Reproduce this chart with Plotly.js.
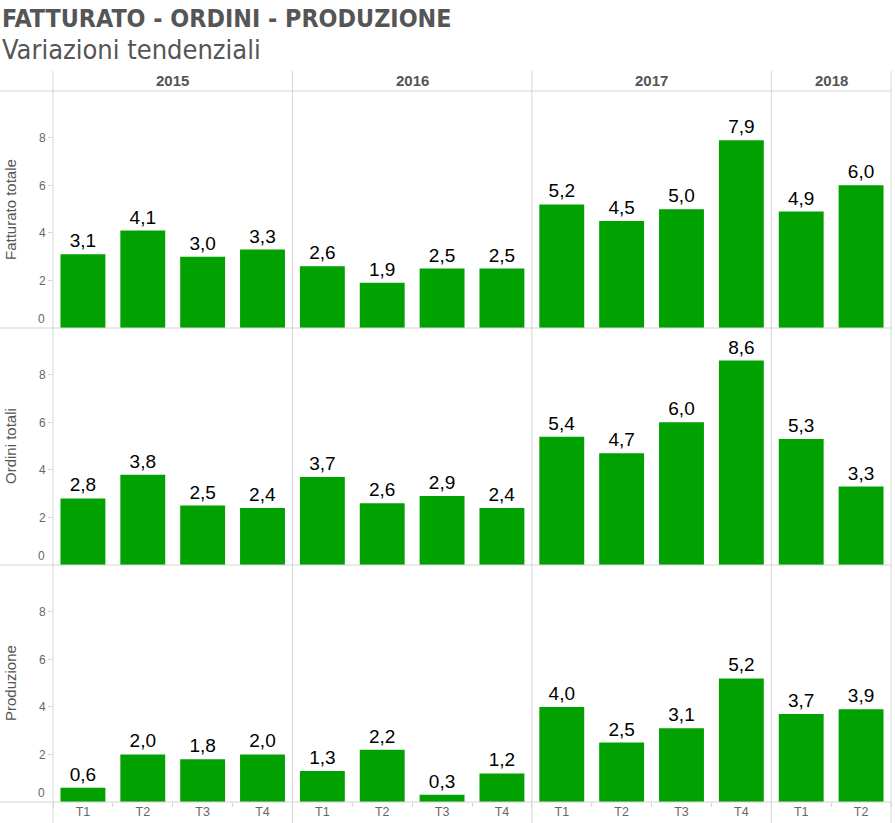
<!DOCTYPE html>
<html>
<head>
<meta charset="utf-8">
<script src="https://cdn.plot.ly/plotly-3.0.1.min.js"></script>
<style>
  html, body { margin: 0; padding: 0; background: #fff; }
  #chart { width: 895px; height: 823px; }
</style>
</head>
<body>
<div id="chart"></div>
<script>
// ---- data ----
const years = ['2015', '2016', '2017', '2018'];
const periodYears = ['2015','2015','2015','2015','2016','2016','2016','2016','2017','2017','2017','2017','2018','2018'];
const quarters = ['T1','T2','T3','T4','T1','T2','T3','T4','T1','T2','T3','T4','T1','T2'];
const fatturato = [3.1, 4.1, 3.0, 3.3, 2.6, 1.9, 2.5, 2.5, 5.2, 4.5, 5.0, 7.9, 4.9, 6.0];
const ordini = [2.8, 3.8, 2.5, 2.4, 3.7, 2.6, 2.9, 2.4, 5.4, 4.7, 6.0, 8.6, 5.3, 3.3];
const produzione = [0.6, 2.0, 1.8, 2.0, 1.3, 2.2, 0.3, 1.2, 4.0, 2.5, 3.1, 5.2, 3.7, 3.9];
const rowTitles = ['Fatturato totale', 'Ordini totali', 'Produzione'];
const yTicks = [2, 4, 6, 8];

// ---- layout helpers ----
const W = 895, H = 823;
const L = 53, R = 891, T = 91, B = 802;
const pw = R - L, ph = B - T;
const px2x = p => (p - L) / pw;
const py2y = p => (B - p) / ph;

const cats = periodYears.map((y, i) => y + ' ' + quarters[i]);
const green = '#00a100';
const lineCol = '#d4d4d4';
const axisFont = 'Liberation Sans, Arial, sans-serif';

const series = [fatturato, ordini, produzione];
const yaxisNames = ['y', 'y2', 'y3'];
const traces = series.map((vals, r) => ({
  type: 'bar',
  x: cats,
  y: vals,
  xaxis: 'x',
  yaxis: yaxisNames[r],
  marker: { color: green, line: { width: 0 } },
  width: 0.75,
  texttemplate: '%{y:.1f}',
  textposition: 'outside',
  textfont: { family: axisFont, size: 19, color: '#000' },
  cliponaxis: false,
  hoverinfo: 'skip',
  showlegend: false
}));

const yRange = [0, 9.97];
function yax(domain) {
  return {
    domain: domain,
    range: yRange,
    fixedrange: true,
    showgrid: false,
    zeroline: false,
    showline: false,
    tickmode: 'array',
    tickvals: yTicks,
    ticks: 'outside',
    ticklen: 4,
    tickwidth: 1,
    tickcolor: lineCol,
    tickfont: { family: axisFont, size: 12, color: '#666' },
    anchor: 'x'
  };
}

const rowH = 1 / 3;
const shapes = [];
// horizontal separators
[T, T + ph / 3, T + 2 * ph / 3, B].forEach(py => {
  shapes.push({ type: 'line', xref: 'paper', yref: 'paper',
    x0: px2x(0), x1: 1, y0: py2y(py), y1: py2y(py),
    line: { color: lineCol, width: 1 } });
});
// vertical separators
const vTop = py2y(71), vBot = py2y(H);
shapes.push({ type: 'line', xref: 'paper', yref: 'paper', x0: 0, x1: 0, y0: vBot, y1: vTop, line: { color: lineCol, width: 1 } });
shapes.push({ type: 'line', xref: 'paper', yref: 'paper', x0: 1, x1: 1, y0: vBot, y1: vTop, line: { color: lineCol, width: 1 } });
let idx = 0;
const annotations = [];
years.forEach((yr, k) => {
  const n = periodYears.filter(v => v === yr).length;
  const start = idx, end = idx + n - 1;
  if (k > 0) {
    shapes.push({ type: 'line', xref: 'x', yref: 'paper', x0: start - 0.5, x1: start - 0.5, y0: vBot, y1: vTop, line: { color: lineCol, width: 1 } });
  }
  annotations.push({ xref: 'x', yref: 'paper', x: (start + end) / 2, y: py2y(80.5),
    text: '<b>' + yr + '</b>', showarrow: false, xanchor: 'center', yanchor: 'middle',
    font: { family: axisFont, size: 15, color: '#555' } });
  idx += n;
});

// row titles and zero labels
rowTitles.forEach((t, r) => {
  const top = T + r * ph / 3;
  annotations.push({ xref: 'paper', yref: 'paper', x: px2x(10.5), y: py2y(top + ph / 6),
    text: t, textangle: -90, showarrow: false, xanchor: 'center', yanchor: 'middle',
    font: { family: axisFont, size: 15, color: '#555' } });
  annotations.push({ xref: 'paper', yref: yaxisNames[r], x: px2x(47), y: 0,
    text: '0', showarrow: false, xanchor: 'right', yanchor: 'bottom',
    font: { family: axisFont, size: 12, color: '#666' } });
});

// titles
annotations.push({ xref: 'paper', yref: 'paper', x: px2x(0), y: py2y(19), xanchor: 'left', yanchor: 'middle',
  text: '<b>FATTURATO - ORDINI - PRODUZIONE</b>', showarrow: false,
  font: { family: 'DejaVu Sans Condensed, DejaVu Sans, sans-serif', size: 24.8, color: '#555' } });
annotations.push({ xref: 'paper', yref: 'paper', x: px2x(0), y: py2y(49), xanchor: 'left', yanchor: 'middle',
  text: 'Variazioni tendenziali', showarrow: false,
  font: { family: 'DejaVu Sans Condensed, DejaVu Sans, sans-serif', size: 27, color: '#555' } });

const layout = {
  width: W, height: H,
  margin: { l: L, r: W - R, t: T, b: H - B, pad: 0 },
  paper_bgcolor: '#fff', plot_bgcolor: '#fff',
  separators: ',.',
  bargap: 0.25,
  hovermode: false,
  xaxis: {
    type: 'category',
    categoryorder: 'array',
    categoryarray: cats,
    range: [-0.5, cats.length - 0.5],
    fixedrange: true,
    anchor: 'y3',
    tickmode: 'array',
    tickvals: cats,
    ticktext: quarters,
    tickson: 'boundaries',
    ticks: 'outside',
    ticklen: 4,
    tickcolor: lineCol,
    showgrid: false,
    zeroline: false,
    showline: false,
    tickfont: { family: axisFont, size: 12.5, color: '#666' }
  },
  yaxis: yax([2 * rowH, 1]),
  yaxis2: yax([rowH, 2 * rowH]),
  yaxis3: yax([0, rowH]),
  shapes: shapes,
  annotations: annotations
};

Plotly.newPlot('chart', traces, layout, { staticPlot: true, displayModeBar: false });
</script>
</body>
</html>
